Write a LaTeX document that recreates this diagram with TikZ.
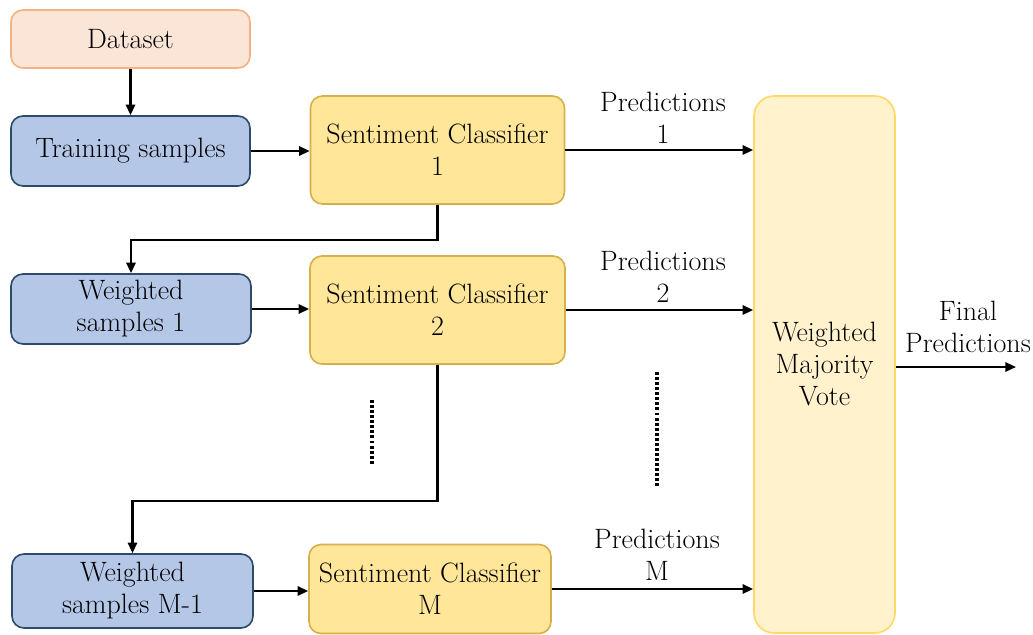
\documentclass[tikz,border=0pt]{standalone}
\usepackage{fontspec}
\usetikzlibrary{arrows.meta}
\definecolor{peachfill}{HTML}{FBE5D6}
\definecolor{peachline}{HTML}{F4B183}
\definecolor{bluefill}{HTML}{B4C7E7}
\definecolor{blueline}{HTML}{2E4A6B}
\definecolor{goldfill}{HTML}{FFE699}
\definecolor{goldline}{HTML}{D6B04A}
\definecolor{votefill}{HTML}{FFF2CC}
\definecolor{voteline}{HTML}{FFD966}
\begin{document}
\begin{tikzpicture}[x=0.75pt,y=-0.75pt,
  every node/.style={font=\rmfamily\fontsize{21}{24}\selectfont, align=center, inner sep=0pt},
  box/.style={draw, line width=1.2pt, rounded corners=9pt},
  datasetbox/.style={box, fill=peachfill, draw=peachline},
  samplebox/.style={box, fill=bluefill, draw=blueline},
  classbox/.style={box, fill=goldfill, draw=goldline},
  votebox/.style={draw=voteline, fill=votefill, line width=1.2pt, rounded corners=15pt},
  link/.style={line width=1.6pt, -{Triangle[length=8pt,width=7pt]}},
  gap/.style={line width=2.6pt, dash pattern=on 2.2pt off 1.6pt}
]
\useasboundingbox (0,0) rectangle (1033,635);

% left column: data and weighted sample sets
\node[datasetbox, minimum width=179.25pt, minimum height=43.5pt] (data) at (130.5,39) {Dataset};
\node[samplebox, minimum width=179.25pt, minimum height=52.5pt] (train) at (130.5,151) {Training samples};
\node[samplebox, minimum width=180pt, minimum height=52.5pt] (ws1) at (131,309) {Weighted\\samples 1};
\node[samplebox, minimum width=180.75pt, minimum height=55.5pt] (wsm) at (132.5,591) {Weighted\\samples M-1};

% middle column: classifiers
\node[classbox, minimum width=190.5pt, minimum height=81pt] (sc1) at (437.5,150) {Sentiment Classifier\\1};
\node[classbox, minimum width=191.25pt, minimum height=81pt] (sc2) at (437.5,310) {Sentiment Classifier\\2};
\node[classbox, minimum width=181.5pt, minimum height=66.75pt] (scm) at (430,589) {Sentiment Classifier\\M};

% right: combiner
\node[votebox, minimum width=105.75pt, minimum height=402.75pt] (vote) at (824.5,364.5) {Weighted\\Majority\\Vote};

% prediction labels
\node (p1) at (663,118) {Predictions\\1};
\node (p2) at (663,277) {Predictions\\2};
\node (pm) at (657,555) {Predictions\\M};
\node (final) at (968,327) {Final\\Predictions};

% free end of the output arrow
\coordinate (out) at (1016,367);

% connectors
\draw[link] (data) -- (train);
\draw[link] (train.east) -- (train.east -| sc1.west);
\draw[link] (ws1.east) -- (ws1.east -| sc2.west);
\draw[link] (wsm.east) -- (wsm.east -| scm.west);
\draw[link] (sc1.east) -- (sc1.east -| vote.west);
\draw[link] (sc2.east) -- (sc2.east -| vote.west);
\draw[link] (scm.east) -- (scm.east -| vote.west);
\draw[link] (sc1.south) -- ++(0,35) -| (ws1.north);
\draw[link] (sc2.south) -- ++(0,136) -| (wsm.north);
\draw[link] (vote.east |- out) -- (out);

% ellipsis marks between stages
\draw[gap] (372,400) -- (372,465);
\draw[gap] (657,372) -- (657,488);
\end{tikzpicture}
\end{document}
